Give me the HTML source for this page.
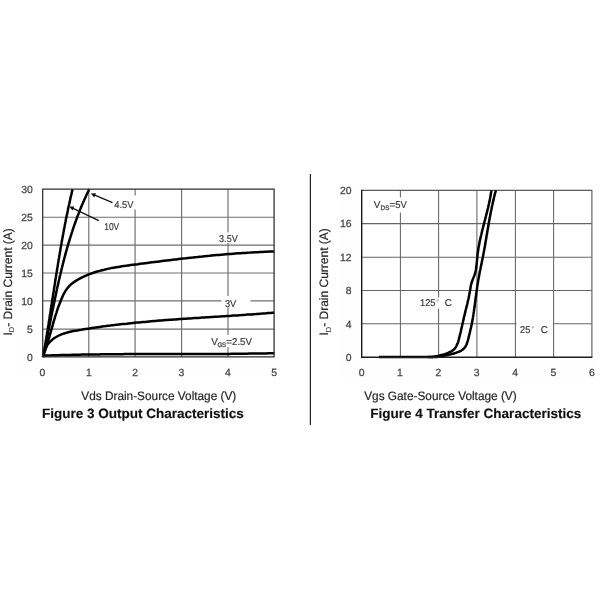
<!DOCTYPE html>
<html><head><meta charset="utf-8">
<style>
html,body{margin:0;padding:0;background:#fff;}
body{width:600px;height:600px;overflow:hidden;font-family:"Liberation Sans",sans-serif;}
svg{display:block;font-family:"Liberation Sans",sans-serif;text-rendering:geometricPrecision}

.g{stroke:#707070;stroke-width:1.15;fill:none}
.g2{stroke:#666;stroke-width:1.05;fill:none}
.ax{stroke:#1c1c1c;stroke-width:1.4;fill:none}
.bt{stroke:#5a5a5a;stroke-width:1.1;fill:none}
.ax2{stroke:#2e2e2e;stroke-width:1.25;fill:none}
.c{stroke:#000;stroke-width:2.5;fill:none;stroke-linecap:butt;stroke-linejoin:round}
.ar{stroke:#111;stroke-width:1.25;fill:none}
.t{fill:#444;font-size:10.4px;stroke:#444;stroke-width:0.25px}
.l{fill:#3a3a3a;font-size:9.9px;stroke:#3a3a3a;stroke-width:0.2px}
.s{fill:#3a3a3a;font-size:6.5px;stroke:#3a3a3a;stroke-width:0.25px}
.a{fill:#262626;font-size:12.2px;stroke:#262626;stroke-width:0.2px}
.b{fill:#111;font-size:13.5px;font-weight:bold;stroke:#111;stroke-width:0.15px}
</style></head><body>
<svg width="600" height="600" viewBox="0 0 600 600" style="will-change:transform;opacity:0.999">
<rect width="600" height="600" fill="#fff"/>
<rect x="20.5" y="183" width="258" height="194" fill="#fefefe"/>
<rect x="339.5" y="183.5" width="257" height="194.5" fill="#fefefe"/>
<rect x="43" y="189" width="231.3" height="168" fill="#fff"/>
<rect x="361.7" y="190.4" width="230.1" height="167" fill="#fff"/>

<!-- LEFT CHART -->
<path class="g" d="M88.8 189V357M135.1 189V357M181.6 189V357M228 189V357M43 217.2H274.3M43 245.1H274.3M43 273H274.3M43 300.9H274.3M43 329.1H274.3"/>
<rect x="224" y="232.5" width="8" height="10.5" fill="#fff"/>
<rect x="131" y="195.5" width="8" height="14" fill="#fff"/>
<rect x="221.4" y="296" width="29" height="11.7" fill="#fff"/>
<rect x="224" y="335" width="8" height="12" fill="#fff"/>

<path class="c" d="M43.0 357.0L43.2 355.6L43.5 354.2L43.7 352.8L44.0 351.4L44.2 350.0L44.5 348.5L44.7 347.1L45.0 345.7L45.2 344.3L45.5 342.9L45.7 341.5L45.9 340.1L46.2 338.7L46.4 337.2L46.6 335.8L46.9 334.4L47.1 333.0L47.3 331.6L47.6 330.2L47.8 328.8L48.0 327.4L48.2 325.9L48.5 324.5L48.7 323.1L48.9 321.7L49.1 320.3L49.4 318.9L49.6 317.5L49.8 316.0L50.0 314.6L50.3 313.2L50.5 311.8L50.7 310.4L50.9 309.0L51.1 307.5L51.4 306.1L51.6 304.7L51.8 303.3L52.0 301.9L52.2 300.5L52.5 299.1L52.7 297.6L52.9 296.2L53.1 294.8L53.3 293.4L53.6 292.0L53.8 290.6L54.0 289.1L54.2 287.7L54.4 286.3L54.7 284.9L54.9 283.5L55.1 282.1L55.3 280.6L55.5 279.2L55.8 277.8L56.0 276.4L56.2 275.0L56.4 273.6L56.7 272.2L56.9 270.7L57.1 269.3L57.3 267.9L57.6 266.5L57.8 265.1L58.0 263.7L58.3 262.3L58.5 260.8L58.7 259.4L59.0 258.0L59.2 256.6L59.4 255.2L59.7 253.8L59.9 252.4L60.2 251.0L60.4 249.5L60.6 248.1L60.9 246.7L61.1 245.3L61.4 243.9L61.6 242.5L61.9 241.1L62.1 239.7L62.4 238.3L62.6 236.9L62.9 235.4L63.2 234.0L63.4 232.6L63.7 231.2L63.9 229.8L64.2 228.4L64.5 227.0L64.7 225.6L65.0 224.2L65.3 222.8L65.6 221.4L65.8 220.0L66.1 218.6L66.4 217.2L66.7 215.8L67.0 214.4L67.3 213.0L67.6 211.6L67.9 210.2L68.1 208.8L68.4 207.4L68.7 206.0L69.1 204.6L69.4 203.2L69.7 201.8L70.0 200.4L70.3 199.0L70.6 197.6L70.9 196.2L71.3 194.8L71.6 193.4L71.9 192.0L72.2 190.6L72.6 189.2"/>
<path class="c" d="M43.0 357.0L43.3 355.6L43.6 354.1L43.9 352.7L44.2 351.3L44.5 349.9L44.8 348.4L45.1 347.0L45.4 345.6L45.7 344.1L46.0 342.7L46.3 341.3L46.6 339.8L46.9 338.4L47.2 337.0L47.5 335.5L47.8 334.1L48.0 332.6L48.3 331.2L48.6 329.8L48.9 328.3L49.2 326.9L49.5 325.5L49.8 324.0L50.1 322.6L50.4 321.1L50.7 319.7L50.9 318.3L51.2 316.8L51.5 315.4L51.8 313.9L52.1 312.5L52.4 311.1L52.7 309.6L53.0 308.2L53.3 306.7L53.6 305.3L53.9 303.9L54.2 302.4L54.5 301.0L54.8 299.5L55.1 298.1L55.4 296.7L55.7 295.2L56.0 293.8L56.3 292.3L56.6 290.9L56.9 289.5L57.2 288.0L57.5 286.6L57.9 285.2L58.2 283.7L58.5 282.3L58.8 280.9L59.2 279.4L59.5 278.0L59.8 276.6L60.2 275.1L60.5 273.7L60.8 272.3L61.2 270.9L61.5 269.4L61.9 268.0L62.2 266.6L62.6 265.1L62.9 263.7L63.3 262.3L63.7 260.9L64.0 259.5L64.4 258.0L64.8 256.6L65.2 255.2L65.5 253.8L65.9 252.4L66.3 251.0L66.7 249.6L67.1 248.1L67.5 246.7L67.9 245.3L68.3 243.9L68.8 242.5L69.2 241.1L69.6 239.7L70.0 238.3L70.5 236.9L70.9 235.5L71.4 234.1L71.8 232.7L72.3 231.3L72.7 229.9L73.2 228.5L73.6 227.2L74.1 225.8L74.6 224.4L75.1 223.0L75.6 221.6L76.1 220.3L76.6 218.9L77.1 217.5L77.6 216.1L78.1 214.8L78.7 213.4L79.2 212.0L79.7 210.7L80.3 209.3L80.8 207.9L81.4 206.6L81.9 205.2L82.5 203.9L83.1 202.5L83.7 201.2L84.3 199.8L84.9 198.5L85.5 197.2L86.1 195.8L86.7 194.5L87.3 193.2L88.0 191.8L88.6 190.5L89.3 189.2"/>
<path class="c" d="M43.0 357.0L43.7 354.7L44.5 352.4L45.3 350.2L46.0 347.9L46.7 345.6L47.4 343.3L48.1 341.0L48.8 338.7L49.5 336.4L50.1 334.1L50.8 331.8L51.4 329.4L52.1 327.1L52.8 324.8L53.4 322.4L54.1 320.1L54.8 317.8L55.5 315.4L56.3 313.1L57.0 310.8L57.8 308.5L58.6 306.2L59.5 304.0L60.4 301.7L61.3 299.4L62.2 297.2L63.2 295.0L64.3 292.9L65.5 290.9L66.9 288.9L68.3 287.1L69.9 285.4L71.7 283.8L73.5 282.4L75.5 281.1L77.5 279.8L79.6 278.7L81.7 277.6L83.9 276.5L86.0 275.6L88.2 274.6L90.4 273.8L92.7 273.0L94.9 272.2L97.2 271.5L99.5 270.9L101.9 270.2L104.2 269.7L106.6 269.1L108.9 268.6L111.3 268.1L113.7 267.7L116.1 267.3L118.5 266.9L120.9 266.5L123.4 266.1L125.8 265.8L128.2 265.4L130.6 265.1L133.1 264.8L135.5 264.5L137.9 264.2L140.3 263.8L142.7 263.5L145.1 263.2L147.5 262.9L149.9 262.6L152.3 262.3L154.7 262.0L157.1 261.7L159.5 261.4L161.9 261.1L164.3 260.8L166.7 260.5L169.1 260.2L171.4 259.9L173.8 259.6L176.2 259.4L178.6 259.1L180.9 258.8L183.3 258.5L185.7 258.3L188.1 258.0L190.4 257.7L192.8 257.5L195.2 257.2L197.5 257.0L199.9 256.7L202.3 256.5L204.7 256.2L207.0 256.0L209.4 255.8L211.8 255.5L214.2 255.3L216.5 255.1L218.9 254.9L221.3 254.7L223.7 254.5L226.0 254.3L228.4 254.1L230.8 253.9L233.2 253.7L235.6 253.5L238.0 253.3L240.4 253.2L242.8 253.0L245.2 252.9L247.6 252.7L250.0 252.6L252.4 252.4L254.9 252.3L257.3 252.2L259.7 252.0L262.1 251.9L264.6 251.8L267.0 251.7L269.4 251.6L271.9 251.5L274.3 251.4"/>
<path class="c" d="M43.0 357.0L43.3 354.9L43.9 352.6L44.6 350.5L45.4 348.5L46.4 346.6L47.5 344.9L48.7 343.2L50.0 341.8L51.5 340.4L53.0 339.1L54.5 338.0L56.2 337.0L57.9 336.0L59.7 335.1L61.5 334.4L63.4 333.7L65.3 333.1L67.3 332.5L69.3 332.0L71.3 331.5L73.3 331.1L75.3 330.7L77.4 330.4L79.4 330.0L81.5 329.7L83.5 329.3L85.6 329.0L87.7 328.7L89.7 328.4L91.8 328.1L93.8 327.8L95.9 327.5L97.9 327.2L100.0 326.9L102.0 326.6L104.1 326.3L106.1 326.1L108.2 325.8L110.2 325.6L112.3 325.3L114.3 325.1L116.4 324.8L118.4 324.6L120.5 324.3L122.5 324.1L124.6 323.9L126.6 323.7L128.7 323.4L130.7 323.2L132.8 323.0L134.8 322.8L136.9 322.6L138.9 322.4L141.0 322.2L143.0 322.0L145.1 321.9L147.1 321.7L149.2 321.5L151.2 321.3L153.2 321.1L155.3 321.0L157.3 320.8L159.4 320.6L161.4 320.5L163.5 320.3L165.5 320.1L167.6 320.0L169.6 319.8L171.7 319.7L173.7 319.5L175.8 319.4L177.8 319.2L179.9 319.1L181.9 319.0L183.9 318.8L186.0 318.7L188.0 318.5L190.1 318.4L192.1 318.3L194.2 318.1L196.2 318.0L198.3 317.9L200.3 317.7L202.4 317.6L204.4 317.5L206.5 317.3L208.5 317.2L210.6 317.1L212.6 316.9L214.7 316.8L216.7 316.7L218.8 316.6L220.8 316.4L222.9 316.3L224.9 316.2L227.0 316.0L229.0 315.9L231.1 315.8L233.1 315.6L235.2 315.5L237.3 315.4L239.3 315.2L241.4 315.1L243.4 314.9L245.5 314.8L247.5 314.6L249.6 314.5L251.7 314.4L253.7 314.2L255.8 314.1L257.8 313.9L259.9 313.7L261.9 313.6L264.0 313.4L266.1 313.3L268.1 313.1L270.2 312.9L272.3 312.8L274.3 312.7"/>
<path class="c" d="M43.0 356.0L44.9 355.6L46.9 355.5L48.8 355.5L50.7 355.4L52.7 355.3L54.6 355.3L56.6 355.2L58.5 355.2L60.4 355.1L62.4 355.1L64.3 355.0L66.3 355.0L68.2 354.9L70.2 354.9L72.1 354.8L74.0 354.8L76.0 354.7L77.9 354.7L79.9 354.7L81.8 354.6L83.8 354.6L85.7 354.6L87.6 354.5L89.6 354.5L91.5 354.5L93.5 354.4L95.4 354.4L97.4 354.4L99.3 354.4L101.2 354.3L103.2 354.3L105.1 354.3L107.1 354.3L109.0 354.3L111.0 354.2L112.9 354.2L114.9 354.2L116.8 354.2L118.7 354.2L120.7 354.2L122.6 354.2L124.6 354.1L126.5 354.1L128.5 354.1L130.4 354.1L132.4 354.1L134.3 354.1L136.2 354.1L138.2 354.1L140.1 354.1L142.1 354.1L144.0 354.1L146.0 354.1L147.9 354.1L149.9 354.1L151.8 354.1L153.7 354.0L155.7 354.0L157.6 354.0L159.6 354.0L161.5 354.0L163.5 354.0L165.4 354.0L167.4 354.0L169.3 354.0L171.3 354.0L173.2 354.0L175.1 354.0L177.1 354.0L179.0 354.0L181.0 354.0L182.9 354.0L184.9 354.0L186.8 354.0L188.8 354.0L190.7 354.0L192.6 354.0L194.6 354.0L196.5 354.0L198.5 354.0L200.4 354.0L202.4 354.0L204.3 354.0L206.3 354.0L208.2 354.0L210.2 354.0L212.1 354.0L214.0 353.9L216.0 353.9L217.9 353.9L219.9 353.9L221.8 353.9L223.8 353.9L225.7 353.9L227.7 353.9L229.6 353.9L231.5 353.8L233.5 353.8L235.4 353.8L237.4 353.8L239.3 353.8L241.3 353.7L243.2 353.7L245.2 353.7L247.1 353.7L249.0 353.6L251.0 353.6L252.9 353.6L254.9 353.6L256.8 353.5L258.8 353.5L260.7 353.5L262.6 353.4L264.6 353.4L266.5 353.4L268.5 353.3L270.4 353.3L272.4 353.2L274.3 353.2"/>
<path class="ax2" d="M42.7 189.1H274.1V356.9H42.7Z"/>
<!-- arrows -->
<path class="ar" d="M112.5 202.6L93 194.4"/>
<path d="M90.9 193.5L96 193.3L94.3 197.4Z" fill="#111"/>
<path class="ar" d="M98.8 220.6L71.5 207.6"/>
<path d="M69.2 206.5L74.3 206.5L72.5 210.5Z" fill="#111"/>
<!-- in-chart labels -->
<text class="l" x="114.2" y="208" textLength="19.2" lengthAdjust="spacingAndGlyphs">4.5V</text>
<text class="l" x="104.2" y="230" textLength="15" lengthAdjust="spacingAndGlyphs">10V</text>
<text class="l" x="219.1" y="241.7" textLength="18.6" lengthAdjust="spacingAndGlyphs">3.5V</text>
<text class="l" x="224.9" y="306.9" textLength="11.4" lengthAdjust="spacingAndGlyphs">3V</text>
<text class="l" x="211.2" y="344.6">V</text>
<text class="s" x="217.4" y="346.8" textLength="8.8" lengthAdjust="spacingAndGlyphs">GS</text>
<text class="l" x="226.3" y="344.6" textLength="25.7" lengthAdjust="spacingAndGlyphs">=2.5V</text>
<!-- y ticks -->
<g class="t" text-anchor="end">
<text x="32.9" y="192.9">30</text><text x="32.9" y="221.0">25</text><text x="32.9" y="248.9">20</text><text x="32.9" y="276.8">15</text><text x="32.9" y="304.7">10</text><text x="32.9" y="332.9">5</text><text x="32.9" y="360.7">0</text>
</g>
<g class="t" text-anchor="middle">
<text x="42.5" y="376.3">0</text><text x="88.8" y="376.3">1</text><text x="135.2" y="376.3">2</text><text x="181.5" y="376.3">3</text><text x="227.8" y="376.3">4</text><text x="274.2" y="376.3">5</text>
</g>
<text class="a" x="81.3" y="399.7" textLength="155" lengthAdjust="spacingAndGlyphs">Vds Drain-Source Voltage (V)</text>
<text class="b" x="42" y="417.8" textLength="201.8" lengthAdjust="spacingAndGlyphs">Figure 3 Output Characteristics</text>
<g transform="translate(11.8 335.4) rotate(-90)">
<text class="a" x="0" y="0">I</text><text x="3.2" y="2.4" style="font-size:7.4px;fill:#2a2a2a">D</text><text class="a" x="8.6" y="0" textLength="98.6" lengthAdjust="spacingAndGlyphs">- Drain Current (A)</text>
</g>

<!-- divider -->
<path d="M310.4 174V425" stroke="#222" stroke-width="1.2" fill="none"/>

<!-- RIGHT CHART -->
<path class="g2" d="M400.4 190.4V357.3M438.6 190.4V357.3M476.9 190.4V357.3M515.4 190.4V357.3M553.6 190.4V357.3M361.7 223.6H591.8M361.7 257.2H591.8M361.7 290.4H591.8M361.7 323.8H591.8"/>
<rect x="396" y="197.5" width="8" height="15" fill="#fff"/>
<rect x="434" y="297.5" width="9" height="11.2" fill="#fff"/>
<rect x="516.5" y="320" width="36.4" height="8" fill="#fff"/>
<path class="bt" d="M361.7 190.4H591.9V357.3"/>
<path d="M379 357H433" stroke="#000" stroke-width="2.5" fill="none"/>
<path class="c" d="M428.0 356.9L429.7 357.0L431.4 356.9L433.0 356.8L434.5 356.6L436.0 356.3L437.5 356.0L439.0 355.6L440.6 355.2L442.1 354.8L443.7 354.4L445.4 353.9L447.0 353.3L448.5 352.7L450.0 352.0L451.5 351.3L452.8 350.4L454.0 349.4L455.0 348.2L455.9 347.0L456.6 345.6L457.3 344.1L457.9 342.6L458.4 341.1L458.8 339.5L459.2 337.9L459.6 336.3L460.0 334.7L460.4 333.2L460.8 331.6L461.1 330.0L461.5 328.4L461.8 326.9L462.2 325.3L462.5 323.8L462.9 322.2L463.2 320.7L463.6 319.1L463.9 317.5L464.3 316.0L464.7 314.4L465.1 312.9L465.4 311.3L465.8 309.7L466.2 308.2L466.6 306.6L467.0 305.0L467.4 303.5L467.7 301.9L468.1 300.3L468.5 298.7L468.8 297.2L469.1 295.6L469.4 294.0L469.7 292.4L470.0 290.8L470.3 289.3L470.5 287.7L470.8 286.1L471.1 284.5L471.5 283.0L472.0 281.5L472.6 279.9L473.2 278.4L473.8 276.9L474.4 275.4L474.9 273.9L475.3 272.3L475.7 270.8L476.0 269.2L476.2 267.6L476.4 266.0L476.6 264.4L476.8 262.8L476.9 261.2L477.1 259.6L477.2 258.0L477.4 256.4L477.5 254.8L477.7 253.2L478.0 251.6L478.2 250.0L478.4 248.4L478.7 246.8L479.0 245.3L479.3 243.7L479.6 242.1L479.9 240.5L480.3 238.9L480.6 237.4L481.0 235.8L481.4 234.2L481.7 232.7L482.1 231.1L482.5 229.5L482.9 228.0L483.3 226.4L483.7 224.9L484.1 223.3L484.5 221.7L484.9 220.2L485.3 218.6L485.7 217.0L486.1 215.5L486.5 213.9L486.9 212.4L487.3 210.8L487.7 209.2L488.1 207.7L488.4 206.1L488.8 204.5L489.1 202.9L489.5 201.4L489.8 199.8L490.1 198.2L490.4 196.6L490.7 195.1L490.9 193.5L491.2 191.9L491.4 190.3"/>
<path class="c" d="M432.0 356.9L433.7 357.0L435.3 357.0L437.0 356.9L438.6 356.7L440.2 356.5L441.8 356.2L443.4 355.9L445.0 355.5L446.6 355.2L448.2 354.8L449.8 354.5L451.4 354.1L453.0 353.7L454.6 353.2L456.2 352.7L457.8 352.1L459.3 351.5L460.8 350.8L462.2 350.0L463.4 349.0L464.5 347.8L465.5 346.5L466.2 345.1L466.9 343.6L467.4 342.0L467.9 340.4L468.3 338.8L468.7 337.1L469.1 335.5L469.5 333.9L469.9 332.3L470.2 330.7L470.6 329.1L471.0 327.5L471.3 325.9L471.7 324.3L472.0 322.7L472.3 321.1L472.6 319.5L472.9 317.9L473.1 316.3L473.4 314.7L473.6 313.1L473.9 311.4L474.1 309.8L474.3 308.2L474.6 306.6L474.8 304.9L475.0 303.3L475.2 301.7L475.4 300.1L475.6 298.4L475.9 296.8L476.1 295.2L476.3 293.5L476.5 291.9L476.7 290.3L477.0 288.6L477.2 287.0L477.4 285.4L477.7 283.8L478.0 282.1L478.2 280.5L478.5 278.9L478.8 277.3L479.1 275.7L479.4 274.1L479.7 272.4L480.0 270.8L480.4 269.2L480.7 267.6L481.0 266.0L481.4 264.4L481.7 262.8L482.0 261.2L482.3 259.6L482.7 258.0L483.0 256.4L483.3 254.8L483.6 253.1L483.9 251.5L484.2 249.9L484.5 248.3L484.8 246.7L485.1 245.1L485.3 243.4L485.6 241.8L485.9 240.2L486.2 238.6L486.4 237.0L486.7 235.3L487.0 233.7L487.3 232.1L487.5 230.5L487.8 228.9L488.1 227.2L488.4 225.6L488.6 224.0L488.9 222.4L489.2 220.8L489.5 219.2L489.8 217.5L490.1 215.9L490.4 214.3L490.7 212.7L491.0 211.1L491.4 209.5L491.7 207.9L492.0 206.3L492.4 204.7L492.7 203.1L493.1 201.5L493.5 199.9L493.8 198.3L494.2 196.7L494.6 195.1L495.0 193.5L495.5 191.9L495.9 190.3"/>
<path class="ax" d="M361.7 189.8V357.3H592.3"/>
<text class="l" x="373.8" y="208">V</text>
<text class="s" x="380.6" y="210.2" textLength="8.8" lengthAdjust="spacingAndGlyphs">DS</text>
<text class="l" x="389.6" y="208" textLength="17.2" lengthAdjust="spacingAndGlyphs">=5V</text>
<text class="l" x="420" y="306.3" textLength="15.5" lengthAdjust="spacingAndGlyphs">125</text>
<text x="436.3" y="304" style="font-size:6.5px;fill:#3c3c3c">°</text>
<text class="l" x="444.8" y="306.3">C</text>
<text class="l" x="520" y="333.3" textLength="10.3" lengthAdjust="spacingAndGlyphs">25</text>
<text x="531.4" y="331" style="font-size:6.5px;fill:#3c3c3c">°</text>
<text class="l" x="540.8" y="333.3">C</text>
<g class="t" text-anchor="end">
<text x="351.5" y="194.2">20</text><text x="351.5" y="227.4">16</text><text x="351.5" y="261.0">12</text><text x="351.5" y="294.2">8</text><text x="351.5" y="327.6">4</text><text x="351.5" y="361.1">0</text>
</g>
<g class="t" text-anchor="middle">
<text x="361.7" y="376.3">0</text><text x="400" y="376.3">1</text><text x="438.4" y="376.3">2</text><text x="476.7" y="376.3">3</text><text x="515.2" y="376.3">4</text><text x="553.4" y="376.3">5</text><text x="591.9" y="376.3">6</text>
</g>
<text class="a" x="364.2" y="399.7" textLength="152.5" lengthAdjust="spacingAndGlyphs">Vgs Gate-Source Voltage (V)</text>
<text class="b" x="370.3" y="417.8" textLength="210.9" lengthAdjust="spacingAndGlyphs">Figure 4 Transfer Characteristics</text>
<g transform="translate(328.2 335.4) rotate(-90)">
<text class="a" x="0" y="0">I</text><text x="3.2" y="2.4" style="font-size:7.4px;fill:#2a2a2a">D</text><text class="a" x="8.6" y="0" textLength="98.6" lengthAdjust="spacingAndGlyphs">- Drain Current (A)</text>
</g>
</svg>
</body></html>
